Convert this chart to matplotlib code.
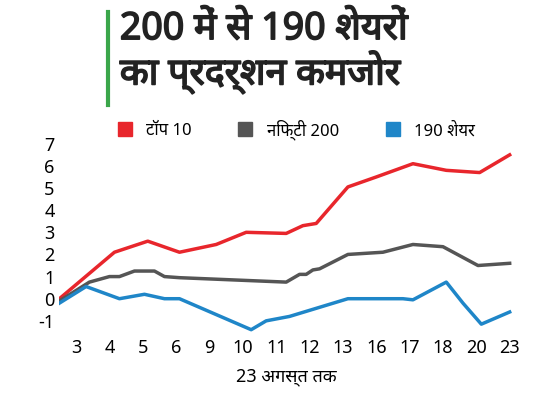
import matplotlib
matplotlib.use("Agg")
import matplotlib.pyplot as plt
from matplotlib.lines import Line2D
import matplotlib.patheffects as pe

plt.rcParams['font.family'] = ['Noto Sans', 'Noto Sans Devanagari', 'Lohit Devanagari', 'DejaVu Sans']

xlabels = ['3','4','5','6','9','10','11','12','13','16','17','18','20','23']
yticks = [7,6,5,4,3,2,1,0,-1]

red_x = [-0.5,1.15,2.15,3.1,4.2,5.1,6.3,6.8,7.2,8.15,9.0,10.1,11.1,12.1,13.0]
red_y = [0.0,2.1,2.6,2.1,2.45,3.0,2.95,3.3,3.4,5.05,5.5,6.1,5.8,5.7,6.5]
gray_x = [-0.5,0.4,1.0,1.3,1.75,2.35,2.65,3.1,6.3,6.7,6.9,7.1,7.3,8.15,9.2,10.1,11.0,12.05,13.0]
gray_y = [-0.1,0.75,1.0,1.0,1.25,1.25,1.0,0.95,0.75,1.1,1.1,1.3,1.35,2.0,2.1,2.45,2.35,1.5,1.6]
blue_x = [-0.5,0.3,1.3,2.05,2.65,3.1,5.25,5.7,6.4,8.15,9.8,10.1,11.1,11.6,12.15,13.0]
blue_y = [-0.2,0.55,0.0,0.2,0.0,0.0,-1.4,-1.0,-0.8,0.0,0.0,-0.05,0.75,-0.2,-1.15,-0.6]

fig = plt.figure(figsize=(5.4,4.05), dpi=100)
ax = fig.add_axes([0.11, 0.175, 0.84, 0.47])
ax.plot(red_x, red_y, color='#e8262c', lw=2.5)
ax.plot(gray_x, gray_y, color='#555555', lw=2.5)
ax.plot(blue_x, blue_y, color='#1f86c8', lw=2.5)
ax.set_xlim(-0.5, 13.1)
ax.set_ylim(-1.6, 7.0)
ax.set_xticks(range(len(xlabels)))
ax.set_xticklabels(xlabels, fontsize=13)
ax.set_yticks(yticks)
ax.set_yticklabels([str(v) for v in yticks], fontsize=13)
ax.tick_params(length=0)
for s in ax.spines.values():
    s.set_visible(False)
ax.set_xlabel('23 अगस्त तक', fontsize=13, labelpad=8)

fig.add_artist(Line2D([0.2,0.2],[0.74,0.97], color='#3aa64a', lw=3))
fig.text(0.222, 0.975, '200 में से 190 शेयरों\nका प्रदर्शन कमजोर', fontsize=27,
         fontweight='bold', va='top', ha='left', linespacing=1.1, color='#222222',
         path_effects=[pe.withStroke(linewidth=1.2, foreground='#222222')])

handles = [Line2D([],[],marker='s',ls='',color=c,markersize=10) for c in ['#e8262c','#555555','#1f86c8']]
fig.legend(handles, ['टॉप 10','निफ्टी 200','190 शेयर'], loc='center', bbox_to_anchor=(0.54,0.68),
           ncol=3, frameon=False, fontsize=12, handletextpad=0.3, columnspacing=2.2)
fig.savefig('out.png', dpi=100)
